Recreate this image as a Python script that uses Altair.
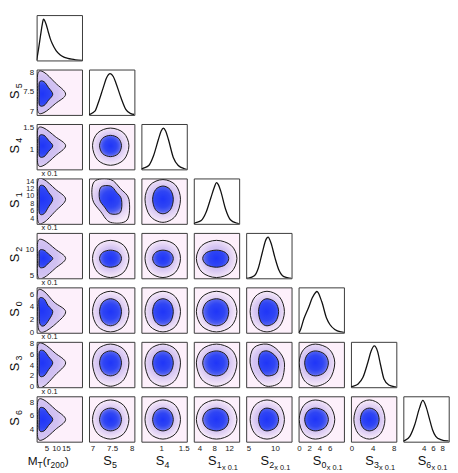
import altair as alt
import pandas as pd

FONT = "Liberation Sans"
PARAMS = ["MT", "S5", "S4", "S1", "S2", "S0", "S3", "S6"]

# ---- axis domains and ticks (data units) ----
X_DOMAIN = {"MT": [0, 23.3], "S5": [6.91, 8.07], "S4": [0.56, 1.57], "S1": [2.5, 14.7],
            "S2": [4.55, 13.15], "S0": [-0.1, 8.8], "S3": [-0.1, 8.5], "S6": [-0.4, 9.4]}
Y_DOMAIN = {"S5": [6.91, 8.07], "S4": [0.57, 1.57], "S1": [2.5, 14.7], "S2": [4.56, 13.1],
            "S0": [-0.1, 7.1], "S3": [-0.1, 8.4], "S6": [2.2, 8.9]}
X_TICKS = {"MT": [5, 10, 15], "S5": [7, 7.5, 8], "S4": [1, 1.5], "S1": [4, 8, 12],
           "S2": [5, 10], "S0": [0, 2, 4, 6], "S3": [0, 4, 8], "S6": [4, 6, 8]}
Y_TICKS = {"S5": [7, 7.5, 8], "S4": [1, 1.5], "S1": [4, 6, 8, 10, 12, 14], "S2": [5, 10],
           "S0": [0, 2, 4, 6], "S3": [0, 2, 4, 6, 8], "S6": [4, 6, 8]}

# ---- 1-D marginal curves (normalised density) ----
MARG_X = {
    "MT": [0, 1, 2, 3, 3.5, 4, 5, 6, 7, 8, 10, 12, 14, 16, 18, 20, 23.3],
    "S5": [6.91, 6.94, 7.06, 7.145, 7.27, 7.36, 7.45, 7.53, 7.6, 7.73, 7.85, 7.98, 8.07],
    "S4": [0.56, 0.58, 0.725, 0.83, 0.94, 1.0, 1.05, 1.1, 1.16, 1.27, 1.38, 1.52, 1.57],
    "S1": [2.5, 2.76, 4.5, 5.81, 7.12, 8.0, 8.58, 9.1, 9.73, 11.03, 12.34, 14.06, 14.7],
    "S2": [4.55, 5.0, 6.1, 6.86, 7.6, 8.34, 8.7, 9.27, 10.0, 10.75, 11.7, 12.8, 13.15],
    "S0": [-0.1, 0.03, 0.98, 1.93, 2.57, 3.2, 3.5, 4.46, 5.4, 6.04, 7.0, 8.27, 8.8],
    "S3": [-0.1, 0.03, 1.26, 2.18, 3.1, 3.71, 4.32, 4.94, 5.55, 6.16, 7.08, 8.3, 8.5],
    "S6": [-0.4, -0.25, 1.0, 2.06, 3.1, 3.8, 4.5, 5.2, 5.9, 6.6, 7.66, 9.05, 9.4],
}
MARG_D = {
    "MT": [0, 0.28, 0.6, 0.9, 1.0, 0.98, 0.86, 0.69, 0.53, 0.41, 0.24, 0.14, 0.08, 0.05, 0.03, 0.015, 0.0],
    "S5": [0.01, 0.02, 0.09, 0.29, 0.65, 0.9, 1.0, 0.93, 0.77, 0.41, 0.135, 0.03, 0.01],
    "S4": [0.0, 0.015, 0.095, 0.33, 0.73, 0.93, 1.0, 0.93, 0.73, 0.29, 0.095, 0.015, 0.0],
    "S1": [0.0, 0.015, 0.08, 0.28, 0.64, 0.88, 1.0, 0.95, 0.8, 0.36, 0.1, 0.015, 0.0],
    "S2": [0, 0.005, 0.06, 0.25, 0.62, 0.95, 1.0, 0.85, 0.5, 0.2, 0.04, 0.005, 0],
    "S0": [0, 0.01, 0.35, 0.63, 0.84, 0.97, 1.0, 0.75, 0.35, 0.2, 0.08, 0.02, 0.01],
    "S3": [0, 0.01, 0.08, 0.24, 0.6, 0.87, 1.0, 0.87, 0.52, 0.2, 0.055, 0.01, 0.005],
    "S6": [0.01, 0.02, 0.13, 0.41, 0.82, 1.0, 0.85, 0.57, 0.29, 0.13, 0.05, 0.02, 0.02],
}

# ---- 2-D credible contours: [outer lo, inner lo, centre, inner hi, outer hi] ----
EXT_X = {
    "MT": [0.5, 1.3, 3.8, 8.3, 14.9],
    "S5": [7.0, 7.18, 7.46, 7.74, 7.93],
    "S4": [0.64, 0.81, 1.04, 1.27, 1.43],
    "S1": [3.2, 4.9, 8.6, 11.9, 14.1],
    "S2": [5.3, 6.9, 8.5, 10.7, 11.8],
    "S0": [0.03, 1.1, 3.2, 5.75, 7.0],
    "S3": [0.45, 1.69, 3.4, 5.24, 6.34],
}
EXT_Y = {
    "S5": [6.97, 7.15, 7.44, 7.76, 8.0],
    "S4": [0.66, 0.85, 1.09, 1.32, 1.48],
    "S1": [2.9, 5.2, 9.1, 12.66, 14.4],
    "S2": [4.7, 6.64, 8.3, 9.86, 11.7],
    "S0": [0.03, 1.0, 3.25, 5.3, 6.48],
    "S3": [0.08, 2.02, 4.46, 6.7, 7.98],
    "S6": [2.58, 3.79, 5.47, 7.16, 8.36],
}
SHAPE = {"MT": (0.95, 0.52)}          # corner roundness (low side, high side)
TILT = {("S5", "S1"): -0.25, ("S2", "S3"): -0.1, ("MT", "S0"): -0.1}

SUBSCRIPT = {"S5": "5", "S4": "4", "S1": "1", "S2": "2", "S0": "0", "S3": "3", "S6": "6"}
SCALED = {"S1", "S2", "S0", "S3", "S6"}

OUTER_STOPS = [(0, "#c2b3f2"), (0.55, "#d3c3f2"), (0.8, "#e9daf6"), (1, "#f8ecf9")]
INNER_STOPS = [(0, "#1f35f8"), (0.55, "#2f45f4"), (0.82, "#4f5ff0"), (1, "#8d89ee")]

W = H = 46
N = 8
ONE = pd.DataFrame({"k": [0]})


def polygon(cp, rp, level):
    ex, ey = EXT_X[cp], EXT_Y[rp]
    lo, hi = (0, 4) if level == "outer" else (1, 3)
    cx, cy = ex[2], ey[2]
    xl, xh, yl, yh = ex[lo], ex[hi], ey[lo], ey[hi]
    klo, khi = SHAPE.get(cp, (0.72, 0.72))
    rho = TILT.get((cp, rp), 0.0)
    a = min(1.0, khi * (1 + rho))
    b = min(1.0, klo * (1 - rho))
    c = min(1.0, klo * (1 + rho))
    d = min(1.0, khi * (1 - rho))
    pts = [(xh, cy), (cx + a * (xh - cx), cy + a * (yh - cy)), (cx, yh),
           (cx - b * (cx - xl), cy + b * (yh - cy)), (xl, cy),
           (cx - c * (cx - xl), cy - c * (cy - yl)), (cx, yl),
           (cx + d * (xh - cx), cy - d * (cy - yl))]
    df = pd.DataFrame({"x": [p[0] for p in pts], "y": [p[1] for p in pts], "i": list(range(8))})
    fx = (cx - xl) / (xh - xl)
    fy = (yh - cy) / (yh - yl)
    r2 = max(fx, 1 - fx, fy, 1 - fy)
    return df, fx, fy, r2


def gradient(stops, fx, fy, r2):
    return alt.RadialGradient(
        gradient="radial",
        stops=[alt.GradientStop(offset=o, color=col) for o, col in stops],
        x1=fx, y1=fy, r1=0, x2=fx, y2=fy, r2=r2)


def text(t, x, y, size, angle=0, align="left", baseline="alphabetic"):
    kw = dict(text=t, font=FONT, fontSize=size, color="#111", align=align, baseline=baseline)
    if angle:
        kw["angle"] = angle
    return alt.Chart(ONE).mark_text(**kw).encode(x=alt.value(x), y=alt.value(y))


def make_axis(ticks, pad, size=8):
    return alt.Axis(values=ticks, format=".2~f", title=None, ticks=False, domain=False,
                    grid=False, labelFont=FONT, labelFontSize=size, labelColor="#222",
                    labelPadding=pad, labelOverlap=False, labelFlush=False)


def cell(r, c):
    if c > r:
        return alt.Chart(ONE).mark_point(opacity=0).encode(
            x=alt.value(0), y=alt.value(0)).properties(
            width=W, height=H, view=alt.ViewBackground(fill="transparent", stroke="transparent"))
    cp, rp = PARAMS[c], PARAMS[r]
    xaxis = make_axis(X_TICKS[cp], 2.5) if r == N - 1 else None
    xenc = alt.X("x:Q", scale=alt.Scale(domain=X_DOMAIN[cp], nice=False, zero=False), axis=xaxis)
    layers = []
    if r == c:
        df = pd.DataFrame({"x": MARG_X[cp], "y": MARG_D[cp]})
        yenc = alt.Y("y:Q", scale=alt.Scale(domain=[0, 1.1], nice=False, zero=False), axis=None)
        layers.append(alt.Chart(df).mark_line(color="#111", strokeWidth=1.3,
                                              interpolate="monotone", clip=True)
                      .encode(x=xenc, y=yenc))
        bg = "white"
    else:
        ysize = 7.3 if len(Y_TICKS[rp]) > 5 else 8
        yaxis = make_axis(Y_TICKS[rp], 3, ysize) if c == 0 else None
        yenc = alt.Y("y:Q", scale=alt.Scale(domain=Y_DOMAIN[rp], nice=False, zero=False), axis=yaxis)
        for level, stops in (("outer", OUTER_STOPS), ("inner", INNER_STOPS)):
            df, fx, fy, r2 = polygon(cp, rp, level)
            layers.append(alt.Chart(df).mark_line(
                interpolate="cardinal-closed", fill=gradient(stops, fx, fy, r2),
                stroke="#1a1a1a", strokeWidth=1, clip=True)
                .encode(x=xenc, y=yenc, order="i:Q"))
        bg = "#fdf0fb"
    # left titles
    if c == 0 and r > 0:
        layers.append(text("S", -22, H / 2 + 2.5, 13, angle=270, align="center", baseline="middle"))
        layers.append(text(SUBSCRIPT[rp], -17.6, H / 2 - 6.5, 9, angle=270, align="center", baseline="middle"))
        if rp in SCALED:
            layers.append(text("x 0.1", 5, -2.5, 7.5))
    # bottom titles
    if r == N - 1:
        if cp == "MT":
            layers += [text("M", -9, H + 23.5, 12), text("T", 1, H + 26.3, 8.5),
                       text("(r", 6.2, H + 23.5, 12), text("200", 14.2, H + 26.3, 8.5),
                       text(")", 28.4, H + 23.5, 12)]
        else:
            layers += [text("S", 14.5, H + 23.5, 13), text(SUBSCRIPT[cp], 23.3, H + 26.3, 9)]
            if cp in SCALED:
                layers.append(text("x 0.1", 28.5, H + 28.5, 7.5))
    return alt.layer(*layers).properties(
        width=W, height=H, view=alt.ViewBackground(fill=bg, stroke="#3a3a3a", strokeWidth=1))


cells = [cell(r, c) for r in range(N) for c in range(N)]

chart = alt.concat(
    *cells, columns=8,
    spacing=alt.RowColnumber(row=9.2, column=7.1),
    bounds="flush",
).resolve_scale(x="independent", y="independent").properties(padding=0)

chart.save("out.html", embed_options={"renderer": "svg", "actions": False})
